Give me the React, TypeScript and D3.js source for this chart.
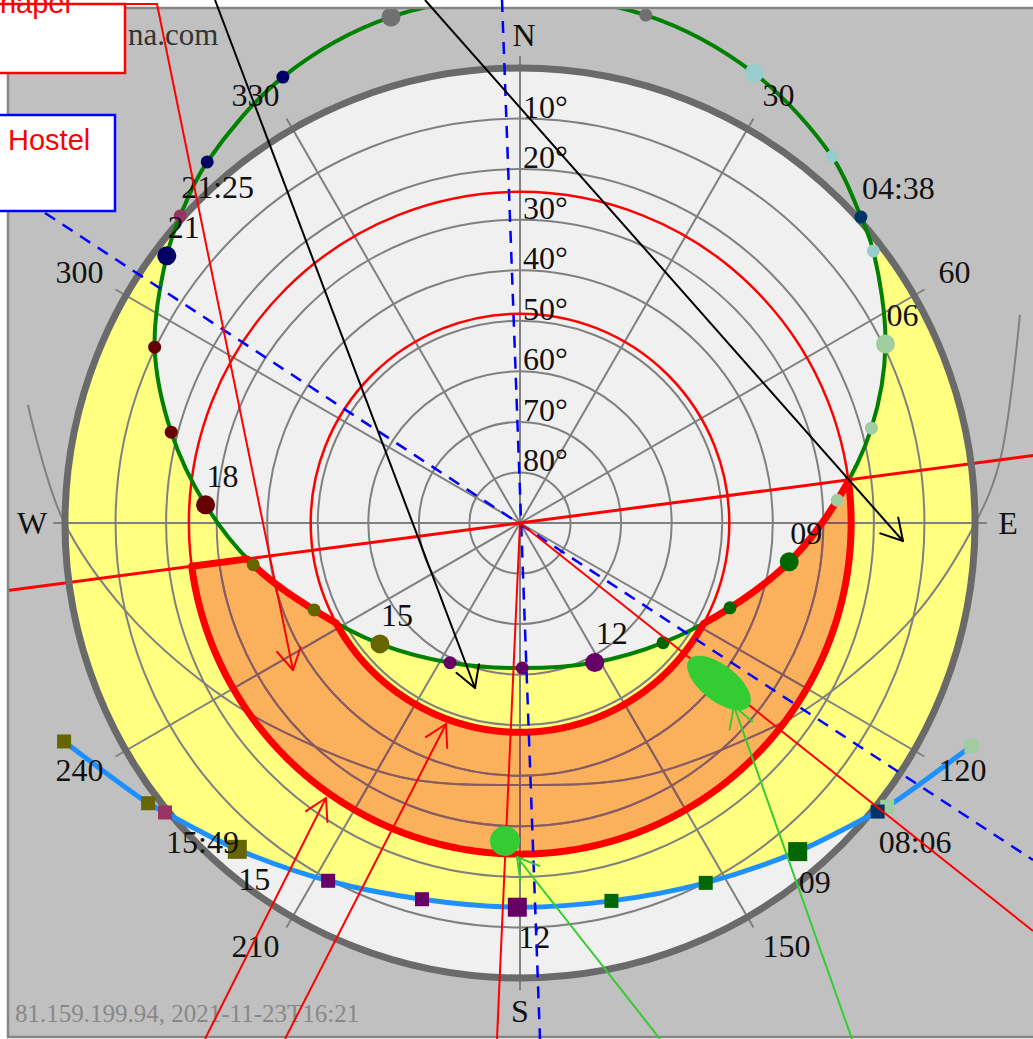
import React, { useRef, useEffect } from 'react';
import * as d3 from 'd3';

const WIDTH = 1033;
const HEIGHT = 1039;
const CX = 520;
const CY = 523;
const HORIZON_R = 455;

// Summer solstice sun path: hourly points plus sunrise / sunset
const summerTimes = ['00:00', '01:00', '02:00', '03:00', '04:00', '04:38', '05:00', '06:00', '07:00', '08:00', '09:00', '10:00', '11:00',
  '12:00', '13:00', '14:00', '15:00', '16:00', '17:00', '18:00', '19:00', '20:00', '21:00', '21:25', '22:00', '23:00'];
const summerAz = [345.7, 359.8, 13.9, 27.5, 40.4, 48.1, 52.4, 63.9, 74.9, 85.9, 98.2, 112.0, 129.9,
  151.8, 179.1, 206.6, 229.2, 247.1, 261.1, 273.3, 284.6, 295.7, 307.1, 312.1, 319.1, 332.0];
const summerAlt = [-13.3, -14.0, -13.5, -10.3, -5.2, -0.6, 1.8, 9.5, 18.0, 27.1, 36.2, 45.2, 53.1,
  58.7, 61.3, 59.1, 53.4, 45.8, 36.6, 27.7, 18.7, 9.8, 2.4, -0.6, -4.5, -9.9];

// Winter solstice sun path
const winterTimes = ['07:00', '08:00', '08:06', '09:00', '10:00', '11:00', '12:00', '13:00', '14:00', '15:00', '15:49', '16:00', '17:00'];
const winterAz = [116.3, 127.7, 128.9, 139.8, 152.7, 166.4, 180.4, 194.6, 208.2, 220.9, 230.8, 233.0, 244.4];
const winterAlt = [-9.6, -1.8, -0.9, 4.9, 9.9, 13.1, 14.0, 13.1, 9.7, 4.6, -0.6, -2.1, -10.0];

// Equinox path
const equinoxAz = [67.4, 82.5, 89.6, 102.8, 120.5, 131.2, 155.0, 180.0, 205.0, 229.2, 241.5, 257.1, 270.4, 283.5];
const equinoxAlt = [-17.1, -5.8, -0.4, 9.5, 21.1, 26.9, 34.5, 38.2, 34.5, 27.3, 20.9, 10.3, -0.4, -10.1];

// colour per 3-hour block
const hourColors = ['#707070', '#99cccc', '#a0cda0', '#006600', '#660066', '#666600', '#660000', '#000066'];
const riseColor = '#003366';
const setColor = '#993366';

const altRings = [10, 20, 30, 40, 50, 60, 70, 80];
const azTicks = [0, 30, 60, 90, 120, 150, 180, 210, 240, 270, 300, 330];
const compassAz = [0, 90, 180, 270];
const compassLabels = ['N', 'E', 'S', 'W'];

// shaded window: altitude band and azimuth limits
const shadeAlt = [24.5, 48.6];
const shadeAz = [82.5, 262.5];

// hand drawn overlay (page pixels)
const blackArrows = [[[215, 0], [475, 688]], [[425, 0], [903, 541]]];
const redArrows = [[[205, 1039], [326, 798]], [[285, 1039], [446, 724]]];
const redCallout = [[125, 4], [157, 4], [293, 670]];
const redFromCentre = [[497, 1039], [1033, 931]];
const blueDashed = [[[45, 213], [1033, 860]], [[502, 0], [540, 1039]]];
const greenArrows = [[[660, 1039], [517, 857]], [[852, 1039], [734, 706]]];

const SERIF = "'Liberation Serif', 'Times New Roman', serif";
const SANS = "'Liberation Sans', Arial, sans-serif";
const RAD = Math.PI / 180;

const App: React.FC = () => {
  const svgRef = useRef<SVGSVGElement>(null);

  useEffect(() => {
    if (!svgRef.current) return;
    const svg = d3.select(svgRef.current);
    svg.selectAll('*').remove();

    const rScale = d3.scaleLinear().domain([90, 0]).range([0, HORIZON_R]);

    const radial = d3.lineRadial<[number, number]>()
      .angle(d => d[0] * RAD)
      .radius(d => rScale(d[1]));
    const radialPx = d3.lineRadial<[number, number]>()
      .angle(d => d[0] * RAD)
      .radius(d => d[1]);

    const summerPts = summerAz.map((a, i) => [a, summerAlt[i]] as [number, number]);
    const winterPts = winterAz.map((a, i) => [a, winterAlt[i]] as [number, number]);
    const equinoxPts = equinoxAz.map((a, i) => [a, equinoxAlt[i]] as [number, number]);

    const summerD = radial.curve(d3.curveCatmullRomClosed)(summerPts) as string;
    const winterD = radial.curve(d3.curveCatmullRom)(winterPts) as string;
    const equinoxD = radial.curve(d3.curveCatmullRom)(equinoxPts) as string;

    const defs = svg.append('defs');
    defs.append('clipPath').attr('id', 'frame-clip')
      .append('rect').attr('x', 8).attr('y', 8).attr('width', WIDTH).attr('height', HEIGHT - 10);
    defs.append('clipPath').attr('id', 'horizon-clip')
      .append('circle').attr('r', HORIZON_R);

    // grey background
    svg.append('rect')
      .attr('x', 8).attr('y', 8).attr('width', WIDTH).attr('height', HEIGHT - 10)
      .attr('fill', '#c0c0c0');

    const frame = svg.append('g').attr('clip-path', 'url(#frame-clip)');
    const chart = frame.append('g').attr('transform', `translate(${CX},${CY})`);

    const fillG = chart.append('g').attr('clip-path', 'url(#horizon-clip)');
    const gridG = chart.append('g');
    const shadeG = chart.append('g');
    const pathG = chart.append('g');
    const outlineG = chart.append('g');
    const markG = chart.append('g');
    const labelG = chart.append('g').attr('font-family', SERIF).attr('font-size', 32).attr('fill', '#111');

    // yellow band between the solstice paths
    fillG.append('circle').attr('r', HORIZON_R).attr('fill', '#ffff80');
    const innerFill = fillG.append('path').attr('d', summerD).attr('fill', '#f0f0f0');
    const far = [[winterAz[winterAz.length - 1], 700], [180, 900], [winterAz[0], 700]]
      .map(([a, rr]) => d3.pointRadial(a * RAD, rr));
    fillG.append('path')
      .attr('d', winterD + far.map(p => `L${p[0]},${p[1]}`).join('') + 'Z')
      .attr('fill', '#f0f0f0');

    // radius of the summer path at a given azimuth, measured on the drawn curve
    const node = innerFill.node() as SVGPathElement;
    const total = node.getTotalLength();
    const samples = d3.range(0, 2400).map(i => {
      const p = node.getPointAtLength((total * i) / 2400);
      let th = Math.atan2(p.x, -p.y) / RAD;
      if (th < 0) th += 360;
      return { th, rr: Math.hypot(p.x, p.y) };
    }).sort((a, b) => a.th - b.th);
    const bis = d3.bisector((d: { th: number }) => d.th).left;
    const rSummer = (t: number) => {
      const i = bis(samples, t);
      const a = samples[Math.max(0, i - 1)];
      const b = samples[Math.min(samples.length - 1, i)];
      if (b.th === a.th) return a.rr;
      return a.rr + ((b.rr - a.rr) * (t - a.th)) / (b.th - a.th);
    };

    const outerR = rScale(shadeAlt[0]);
    const innerR = rScale(shadeAlt[1]);
    const steps = d3.range(shadeAz[0], shadeAz[1] + 0.001, 0.25);
    const outerEdge = steps.map(t => [t, outerR] as [number, number]);
    const innerEdge = steps.map(t => [t, Math.min(outerR, Math.max(innerR, rSummer(t)))] as [number, number]).reverse();
    const shadeD = (radialPx([...outerEdge, ...innerEdge]) as string) + 'Z';

    fillG.append('path').attr('d', shadeD).attr('fill', '#fbb05c');
    defs.append('clipPath').attr('id', 'shade-clip').append('path').attr('d', shadeD);

    // grid
    const drawGrid = (g: d3.Selection<SVGGElement, unknown, null, undefined>, color: string) => {
      altRings.forEach(a => {
        g.append('circle').attr('r', rScale(a))
          .attr('fill', 'none').attr('stroke', color).attr('stroke-width', 2);
      });
      azTicks.forEach(az => {
        const p = d3.pointRadial(az * RAD, HORIZON_R + 12);
        g.append('line').attr('x1', 0).attr('y1', 0).attr('x2', p[0]).attr('y2', p[1])
          .attr('stroke', color).attr('stroke-width', 2);
      });
      g.append('path').attr('d', equinoxD)
        .attr('fill', 'none').attr('stroke', color).attr('stroke-width', 2);
    };
    drawGrid(gridG, '#808080');
    drawGrid(gridG.append('g').attr('clip-path', 'url(#shade-clip)'), '#8c5a5e');

    // shading circles and limits
    shadeAlt.forEach(a => {
      shadeG.append('circle').attr('r', rScale(a))
        .attr('fill', 'none').attr('stroke', 'red').attr('stroke-width', 2.5);
    });
    const limA = d3.pointRadial(shadeAz[0] * RAD, 900);
    const limB = d3.pointRadial(shadeAz[1] * RAD, 900);
    shadeG.append('line')
      .attr('x1', limA[0]).attr('y1', limA[1]).attr('x2', limB[0]).attr('y2', limB[1])
      .attr('stroke', 'red').attr('stroke-width', 3);

    // horizon
    shadeG.append('circle').attr('r', HORIZON_R)
      .attr('fill', 'none').attr('stroke', '#6a6a6a').attr('stroke-width', 7);

    // sun paths
    pathG.append('path').attr('d', summerD)
      .attr('fill', 'none').attr('stroke', '#008000').attr('stroke-width', 4);
    pathG.append('path').attr('d', winterD)
      .attr('fill', 'none').attr('stroke', '#1e90ff').attr('stroke-width', 5);

    // thick outline of the shaded window, above the paths
    outlineG.append('path').attr('d', shadeD)
      .attr('fill', 'none').attr('stroke', 'red').attr('stroke-width', 7).attr('stroke-linejoin', 'round');

    const markerInfo = (t: string, i: number, alt: number[]) => {
      const hour = +t.slice(0, 2);
      const minute = +t.slice(3);
      const event = minute !== 0;
      const big = !event && hour % 3 === 0;
      const color = event ? (hour < 12 ? riseColor : setColor) : hourColors[Math.floor(hour / 3)];
      const label = event ? t : (big && alt[i] > 0 ? t.slice(0, 2) : null);
      return { big, color, label };
    };

    summerTimes.forEach((t, i) => {
      const { big, color, label } = markerInfo(t, i, summerAlt);
      const p = d3.pointRadial(summerAz[i] * RAD, rScale(summerAlt[i]));
      markG.append('circle').attr('cx', p[0]).attr('cy', p[1])
        .attr('r', big ? 9.5 : 6.5).attr('fill', color);
      if (label) {
        labelG.append('text').attr('x', p[0] + 1).attr('y', p[1] - 18).text(label);
      }
    });

    winterTimes.forEach((t, i) => {
      const { big, color, label } = markerInfo(t, i, winterAlt);
      const p = d3.pointRadial(winterAz[i] * RAD, rScale(winterAlt[i]));
      const s = big ? 19 : 14;
      markG.append('rect').attr('x', p[0] - s / 2).attr('y', p[1] - s / 2)
        .attr('width', s).attr('height', s).attr('fill', color);
      if (label) {
        labelG.append('text').attr('x', p[0] + 1).attr('y', p[1] + 41).text(label);
      }
    });

    // altitude labels
    altRings.forEach(a => {
      labelG.append('text').attr('x', 3).attr('y', -rScale(a) - 1).text(`${a}°`);
    });

    // azimuth labels
    azTicks.filter(az => az % 90 !== 0).forEach(az => {
      const p = d3.pointRadial(az * RAD, 481);
      const right = az < 180;
      labelG.append('text')
        .attr('x', p[0] + (right ? 2 : 0))
        .attr('y', p[1] + (Math.cos(az * RAD) < 0 ? 17 : 0))
        .attr('text-anchor', right ? 'start' : 'end')
        .text(az);
    });
    compassAz.forEach((az, i) => {
      const p = d3.pointRadial(az * RAD, 488);
      labelG.append('text')
        .attr('x', p[0] + (i === 0 ? 4 : 0)).attr('y', p[1])
        .attr('text-anchor', 'middle').attr('dominant-baseline', 'central')
        .text(compassLabels[i]);
    });

    frame.append('text').attr('x', 128).attr('y', 45)
      .attr('font-family', SERIF).attr('font-size', 31).attr('fill', '#333')
      .text('na.com');
    frame.append('text').attr('x', 15).attr('y', 1022)
      .attr('font-family', SERIF).attr('font-size', 25).attr('fill', '#888')
      .text('81.159.199.94, 2021-11-23T16:21');

    // frame border
    svg.append('rect')
      .attr('x', 8).attr('y', 8).attr('width', WIDTH).attr('height', HEIGHT - 10)
      .attr('fill', 'none').attr('stroke', '#868686').attr('stroke-width', 2.5);

    // overlay annotations
    const over = svg.append('g');
    const head = (to: number[], from: number[], color: string, w: number) => {
      const ang = Math.atan2(to[1] - from[1], to[0] - from[0]);
      [-1, 1].forEach(s => {
        const a = ang + Math.PI + s * (Math.PI / 6);
        over.append('line')
          .attr('x1', to[0]).attr('y1', to[1])
          .attr('x2', to[0] + 24 * Math.cos(a)).attr('y2', to[1] + 24 * Math.sin(a))
          .attr('stroke', color).attr('stroke-width', w).attr('stroke-linecap', 'round');
      });
    };
    const arrow = (seg: number[][], color: string, w: number) => {
      over.append('line')
        .attr('x1', seg[0][0]).attr('y1', seg[0][1]).attr('x2', seg[1][0]).attr('y2', seg[1][1])
        .attr('stroke', color).attr('stroke-width', w);
      head(seg[1], seg[0], color, w);
    };

    blueDashed.forEach(seg => {
      over.append('line')
        .attr('x1', seg[0][0]).attr('y1', seg[0][1]).attr('x2', seg[1][0]).attr('y2', seg[1][1])
        .attr('stroke', '#0000ff').attr('stroke-width', 2.5).attr('stroke-dasharray', '12 9');
    });
    redFromCentre.forEach(p => {
      over.append('line').attr('x1', CX).attr('y1', CY).attr('x2', p[0]).attr('y2', p[1])
        .attr('stroke', 'red').attr('stroke-width', 2);
    });

    over.append('ellipse')
      .attr('cx', 0).attr('cy', 0).attr('rx', 38).attr('ry', 18)
      .attr('transform', 'translate(719,683) rotate(38)')
      .attr('fill', '#33cc33');
    over.append('circle').attr('cx', 505).attr('cy', 841).attr('r', 15).attr('fill', '#33cc33');

    blackArrows.forEach(seg => arrow(seg, '#000', 2));
    redArrows.forEach(seg => arrow(seg, 'red', 2));
    greenArrows.forEach(seg => arrow(seg, '#33cc33', 2));

    // callout boxes
    over.append('rect').attr('x', -5).attr('y', 4).attr('width', 130).attr('height', 69)
      .attr('fill', '#fff').attr('stroke', 'red').attr('stroke-width', 2.5);
    over.append('text').attr('x', -21).attr('y', 13)
      .attr('font-family', SANS).attr('font-size', 29).attr('fill', 'red').text('Chapel');
    over.append('polyline')
      .attr('points', redCallout.map(p => p.join(',')).join(' '))
      .attr('fill', 'none').attr('stroke', 'red').attr('stroke-width', 2);
    head(redCallout[2], redCallout[1], 'red', 2);

    over.append('rect').attr('x', -5).attr('y', 115).attr('width', 120).attr('height', 96)
      .attr('fill', '#fff').attr('stroke', '#0000ff').attr('stroke-width', 2.5);
    over.append('text').attr('x', 8).attr('y', 150)
      .attr('font-family', SANS).attr('font-size', 29).attr('fill', 'red').text('Hostel');
  }, []);

  return (
    <div style={{ position: 'absolute', left: 0, top: 0 }}>
      <svg ref={svgRef} width={WIDTH} height={HEIGHT} style={{ display: 'block' }} />
    </div>
  );
};

export default App;
